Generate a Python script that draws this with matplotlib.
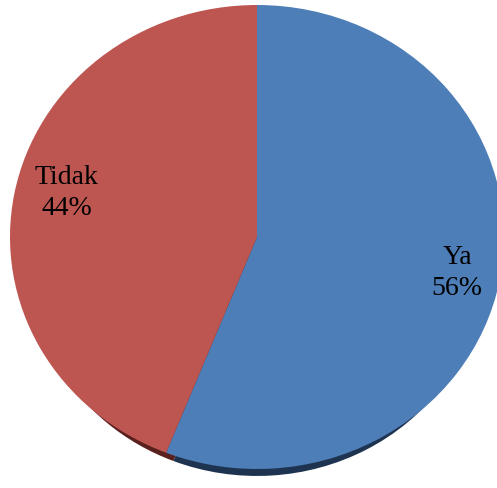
import matplotlib
matplotlib.use('Agg')
import matplotlib.pyplot as plt

plt.rcParams['font.family'] = ['Liberation Serif', 'DejaVu Serif']

labels = ['Ya', 'Tidak']
values = [56, 44]
colors = ['#4D7EB7', '#BD5551']
shadow_colors = ['#1E3350', '#5A201E']
label_pos = [(0.81, -0.155), (-0.77, 0.19)]

fig = plt.figure(figsize=(4.97, 4.88), dpi=100)
ax = fig.add_axes([0, 0, 1, 1])

# shadow under the pie, smaller and pushed down so it only peeks out at the bottom
ax.pie(values, colors=shadow_colors, startangle=90, counterclock=False,
       center=(0, -0.11), radius=0.92, wedgeprops=dict(linewidth=0))
ax.pie(values, colors=colors, startangle=90, counterclock=False,
       radius=1.0, wedgeprops=dict(linewidth=0))

for lab, v, (x, y) in zip(labels, values, label_pos):
    ax.text(x, y, f'{lab}\n{v}%', ha='center', va='center', fontsize=20,
            color='black', linespacing=1.3)

ax.set_aspect('auto')
ax.set_xlim(-257/247, 240/247)
ax.set_ylim(-251/232, 237/232)
ax.axis('off')

fig.savefig('out.png', dpi=100)
